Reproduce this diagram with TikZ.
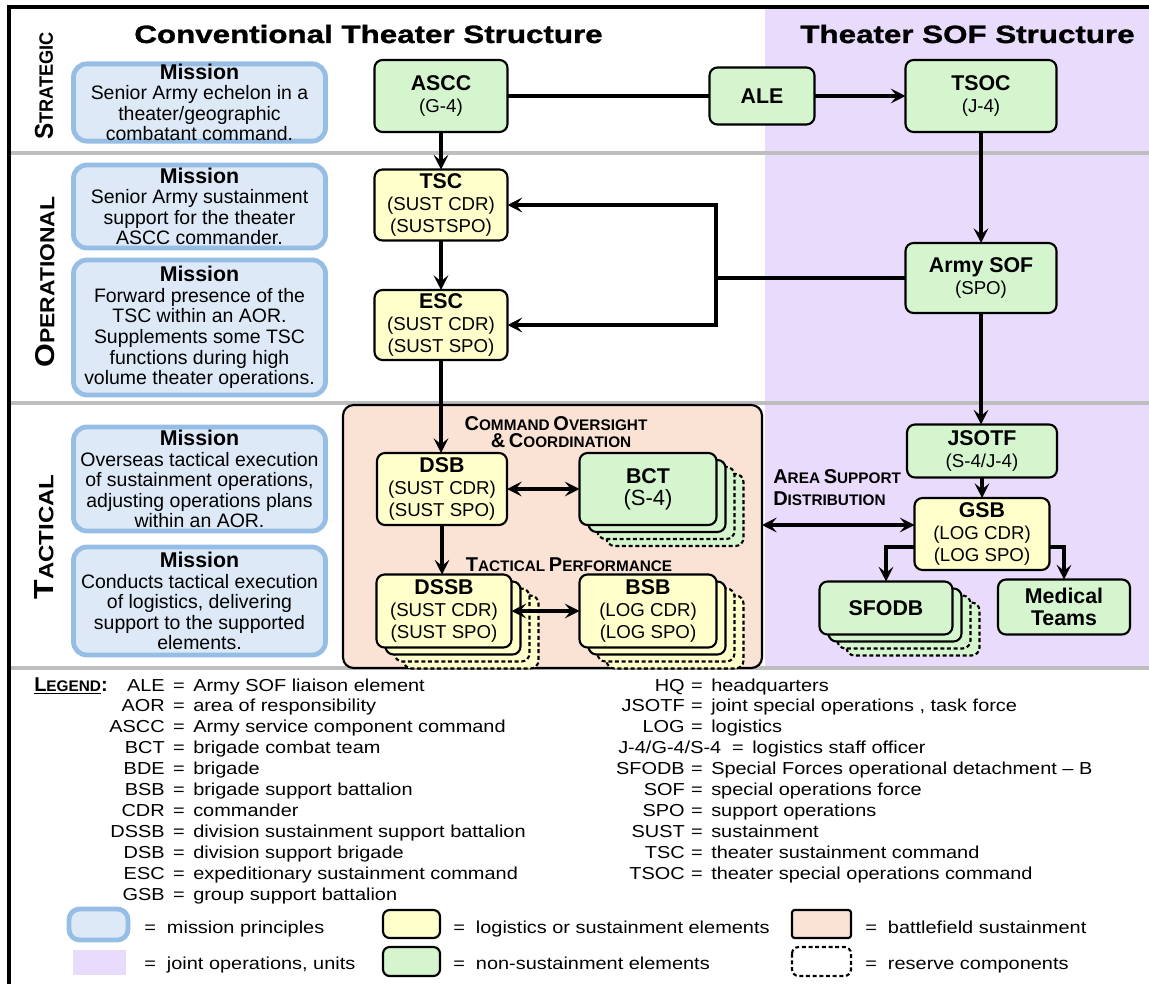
\documentclass[tikz,border=0pt]{standalone}
\usepackage{graphicx}
\usepackage{fontspec}
\setmainfont{Liberation Sans}
\newfontfamily\heavyfont[FakeBold=1.2,FakeStretch=1.25]{Liberation Sans}
\newfontfamily\legfont[FakeStretch=1.15]{Liberation Sans}
\usetikzlibrary{arrows.meta,calc}
\pgfdeclarelayer{back}
\pgfdeclarelayer{stack}
\pgfsetlayers{back,stack,main}
\definecolor{cgreen}{RGB}{213,245,206}
\definecolor{cyellow}{RGB}{255,255,204}
\definecolor{cpeach}{RGB}{250,227,213}
\definecolor{cpurple}{RGB}{233,219,251}
\definecolor{cmfill}{RGB}{221,233,246}
\definecolor{cmline}{RGB}{150,190,228}
\definecolor{cgray}{RGB}{190,190,190}
\newcommand\sct[2]{{\fontsize{15}{15}\selectfont #1}{\fontsize{11.5}{11.5}\selectfont #2}}
\newcommand\bt[1]{{\fontsize{16}{18}\selectfont\bfseries #1}}
\newcommand\rowlab[2]{\bfseries{\fontsize{20}{20}\selectfont #1}{\fontsize{15}{15}\selectfont #2}}
\tikzset{
  sz/.style 2 args={minimum width=#1*0.75pt, minimum height=#2*0.75pt},
  unit/.style={draw=black, line width=1.6pt, rounded corners=6pt, align=center,
    font=\fontsize{14}{16.5}\selectfont, inner sep=0pt, outer sep=0pt},
  gbox/.style={unit, fill=cgreen},
  ybox/.style={unit, fill=cyellow},
  mbox/.style={draw=cmline, line width=3.6pt, fill=cmfill, rounded corners=10pt,
    align=center, font=\fontsize{14.6}{15.4}\selectfont, inner sep=0pt},
  carr/.style={line width=2.8pt, -{Stealth[length=11pt,width=11pt,inset=4.5pt]}},
  carrb/.style={line width=2.8pt, {Stealth[length=11pt,width=11pt,inset=4.5pt]}-{Stealth[length=11pt,width=11pt,inset=4.5pt]}},
  cline/.style={line width=2.8pt},
  sep/.style={draw=cgray, line width=2.5pt},
  hdr/.style={font=\bfseries, align=left, inner sep=0pt},
  leg/.style={font=\legfont\fontsize{13}{15}\selectfont, inner sep=0pt},
  swatch/.style={line width=1.6pt, rounded corners=5pt},
  resv/.style={dash pattern=on 3pt off 2pt},
}
\begin{document}
\begin{tikzpicture}[x=0.75pt,y=-0.75pt]
\useasboundingbox (0,0) rectangle (1149,984);

% ---------- background ----------
\begin{pgfonlayer}{back}
  \fill[white] (0,0) rectangle (1149,984);
  \fill[cpurple] (765,7) rectangle (1149,668);
  \draw[sep] (9,153) -- (1149,153);
  \draw[sep] (9,403) -- (1149,403);
  \draw[sep] (9,668) -- (1149,668);
  \node[draw, line width=1.6pt, fill=cpeach, rounded corners=8pt, inner sep=0pt,
        outer sep=0pt, sz={419}{263}] (bfs) at (552.5,536.5) {};
\end{pgfonlayer}
\draw[line width=2.4pt] (9,984) -- (9,7) -- (1149,7);

% ---------- titles ----------
\node[anchor=base, inner sep=0pt, font=\heavyfont\bfseries\fontsize{18.8}{20}\selectfont]
  (t1) at (368.5,43) {Conventional Theater Structure};
\node[anchor=base, inner sep=0pt, font=\heavyfont\bfseries\fontsize{18.8}{20}\selectfont]
  (t2) at (967.5,43) {Theater SOF Structure};

% ---------- row labels ----------
\node[rotate=90, inner sep=0pt] (lstr) at (44,86) {\resizebox{81pt}{13.5pt}{\rowlab{S}{TRATEGIC}}};
\node[rotate=90, inner sep=0pt] (lope) at (45,282) {\resizebox{128pt}{14.25pt}{\rowlab{O}{PERATIONAL}}};
\node[rotate=90, inner sep=0pt] (ltac) at (44,537) {\resizebox{93.75pt}{14.25pt}{\rowlab{T}{ACTICAL}}};

% ---------- mission boxes ----------
\node[mbox, sz={252}{75}] (m1) at (199.5,102.5)
  {\bt{Mission}\\Senior Army echelon in a\\theater/geographic\\combatant command.};
\node[mbox, sz={252}{83}] (m2) at (199.5,206.5)
  {\bt{Mission}\\Senior Army sustainment\\support for the theater\\ASCC commander.};
\node[mbox, sz={252}{135}] (m3) at (199.5,327.5)
  {\bt{Mission}\\Forward presence of the\\TSC within an AOR.\\Supplements some TSC\\functions during high\\volume theater operations.};
\node[mbox, sz={252}{104}] (m4) at (199.5,479)
  {\bt{Mission}\\Overseas tactical execution\\of sustainment operations,\\adjusting operations plans\\within an AOR.};
\node[mbox, sz={252}{108}] (m5) at (199.5,601)
  {\bt{Mission}\\Conducts tactical execution\\of logistics, delivering\\support to the supported\\elements.};

% ---------- unit boxes ----------
\node[gbox, sz={133}{72}] (ascc) at (441,96) {\bt{ASCC}\\(G-4)};
\node[gbox, sz={105}{57}] (ale) at (762,96) {\bt{ALE}};
\node[gbox, sz={151}{72}] (tsoc) at (981,96) {\bt{TSOC}\\(J-4)};
\node[ybox, sz={133}{71}] (tsc) at (441,205) {\bt{TSC}\\(SUST CDR)\\(SUSTSPO)};
\node[ybox, sz={133}{70}] (esc) at (441,325) {\bt{ESC}\\(SUST CDR)\\(SUST SPO)};
\node[gbox, sz={151}{70}] (asof) at (981,278) {\bt{Army SOF}\\(SPO)};
\node[ybox, sz={130}{72}] (dsb) at (442,489) {\bt{DSB}\\(SUST CDR)\\(SUST SPO)};
\node[gbox, sz={137}{72}] (bct) at (648,489) {\bt{BCT}\\{\fontsize{16.5}{18}\selectfont(S-4)}};
\node[ybox, sz={135}{73}] (dssb) at (444,611) {\bt{DSSB}\\(SUST CDR)\\(SUST SPO)};
\node[ybox, sz={137}{73}] (bsb) at (648,611) {\bt{BSB}\\(LOG CDR)\\(LOG SPO)};
\node[gbox, sz={150}{53}] (jsotf) at (982,451) {\bt{JSOTF}\\(S-4/J-4)};
\node[ybox, sz={135}{72}] (gsb) at (982,534) {\bt{GSB}\\(LOG CDR)\\(LOG SPO)};
\node[gbox, sz={133}{53}] (sfodb) at (886,608) {\bt{SFODB}};
\node[gbox, sz={132}{55}] (med) at (1064,607) {\bt{Medical}\\\bt{Teams}};

% stacked copies behind
\begin{pgfonlayer}{stack}
  \foreach \n/\c in {bct/cgreen, dssb/cyellow, bsb/cyellow, sfodb/cgreen} {
    \foreach \k/\s in {3/resv, 2/resv, 1/solid} {
      \draw[\s, fill=\c, line width=1.6pt, rounded corners=6pt]
        ($(\n.south west)+(9*\k,7*\k)$) rectangle ($(\n.north east)+(9*\k,7*\k)$);
    }
  }
\end{pgfonlayer}

% ---------- section headers ----------
\node[hdr, anchor=base] (hcmd) at (556,430) {\sct{C}{OMMAND} \sct{O}{VERSIGHT}};
\node[hdr, anchor=base] (hcoo) at (561,447) {\sct{\&}{} \sct{C}{OORDINATION}};
\node[hdr, anchor=base] (htac) at (569,571) {\sct{T}{ACTICAL} \sct{P}{ERFORMANCE}};
\node[hdr, anchor=base west] (hare) at (773,483) {\sct{A}{REA} \sct{S}{UPPORT}};
\node[hdr, anchor=base west] (hdis) at (773,505) {\sct{D}{ISTRIBUTION}};

% ---------- connectors ----------
\draw[carr] (ascc.south) -- (ascc.south |- tsc.north);
\draw[carr] (tsc.south) -- (tsc.south |- esc.north);
\draw[carr] (esc.south) -- (esc.south |- dsb.north);
\draw[carr] (dsb.south) -- (dsb.south |- dssb.north);
\draw[cline] (ascc.east) -- (ascc.east -| ale.west);
\draw[carr] (ale.east) -- (ale.east -| tsoc.west);
\draw[carr] (tsoc.south) -- (tsoc.south |- asof.north);
\draw[carr] (asof.south) -- (asof.south |- jsotf.north);
\draw[carr] (jsotf.south) -- (jsotf.south |- gsb.north);
\draw[carrb] (dsb.east) -- (dsb.east -| bct.west);
\draw[carrb] (dssb.east) -- (dssb.east -| bsb.west);
\coordinate (j1) at (716,205);
\coordinate (j2) at (716,325);
\coordinate (j0) at (716,278);
\draw[carrb] (tsc.east) -- (j1) -- (j2) -- (esc.east);
\draw[cline] (asof.west) -- (asof.west -| j0);
\coordinate (asd) at ($(gsb.west)+(0,-9)$);
\draw[carrb] (bfs.east |- asd) -- (asd);
\draw[carr] ($(gsb.west)+(0,13)$) -| (sfodb.north);
\draw[carr] ($(gsb.east)+(0,13)$) -| (med.north);

% ---------- legend ----------
\node[hdr, anchor=base west] (lgh) at (34,691) {\underline{\sct{L}{EGEND}}\sct{:}{}};
\foreach \a/\d [count=\i from 0] in {ALE/Army SOF liaison element, AOR/area of responsibility,
    ASCC/Army service component command, BCT/brigade combat team, BDE/brigade,
    BSB/brigade support battalion, CDR/commander, DSSB/division sustainment support battalion,
    DSB/division support brigade, ESC/expeditionary sustainment command,
    GSB/group support battalion} {
  \node[leg, anchor=base east] (la\i) at (165,{691+20.9*\i}) {\a};
  \node[leg, anchor=base] (le\i) at (179,{691+20.9*\i}) {=};
  \node[leg, anchor=base west] (ld\i) at (193,{691+20.9*\i}) {\d};
}
\foreach \i/\a/\d in {0/HQ/headquarters, 1/JSOTF/{joint special operations , task force},
    2/LOG/logistics, 4/SFODB/{Special Forces operational detachment – B},
    5/SOF/special operations force, 6/SPO/support operations, 7/SUST/sustainment,
    8/TSC/theater sustainment command, 9/TSOC/theater special operations command} {
  \node[leg, anchor=base east] (ra\i) at (685,{691+20.9*\i}) {\a};
  \node[leg, anchor=base] (re\i) at (697,{691+20.9*\i}) {=};
  \node[leg, anchor=base west] (rd\i) at (711,{691+20.9*\i}) {\d};
}
\node[leg, anchor=base west] (ra3) at (618,{691+20.9*3}) {J-4/G-4/S-4};
\node[leg, anchor=base] (re3) at (738,{691+20.9*3}) {=};
\node[leg, anchor=base west] (rd3) at (752,{691+20.9*3}) {logistics staff officer};

% colour key
\draw[draw=cmline, fill=cmfill, line width=3.6pt, rounded corners=8pt] (69,909) rectangle (128,940);
\fill[cpurple] (73,950) rectangle (126,975);
\draw[swatch, fill=cyellow] (383,910) rectangle (440,938);
\draw[swatch, fill=cgreen] (383,947) rectangle (440,976);
\draw[swatch, fill=cpeach, rounded corners=2pt] (792,910) rectangle (851,938);
\draw[swatch, resv] (792,947) rectangle (851,976);
\node[leg, anchor=base west] (k1) at (144,933) {= \ mission principles};
\node[leg, anchor=base west] (k2) at (144,969) {= \ joint operations, units};
\node[leg, anchor=base west] (k3) at (453,933) {= \ logistics or sustainment elements};
\node[leg, anchor=base west] (k4) at (453,969) {= \ non-sustainment elements};
\node[leg, anchor=base west] (k5) at (865,933) {= \ battlefield sustainment};
\node[leg, anchor=base west] (k6) at (865,969) {= \ reserve components};
\end{tikzpicture}
\end{document}
